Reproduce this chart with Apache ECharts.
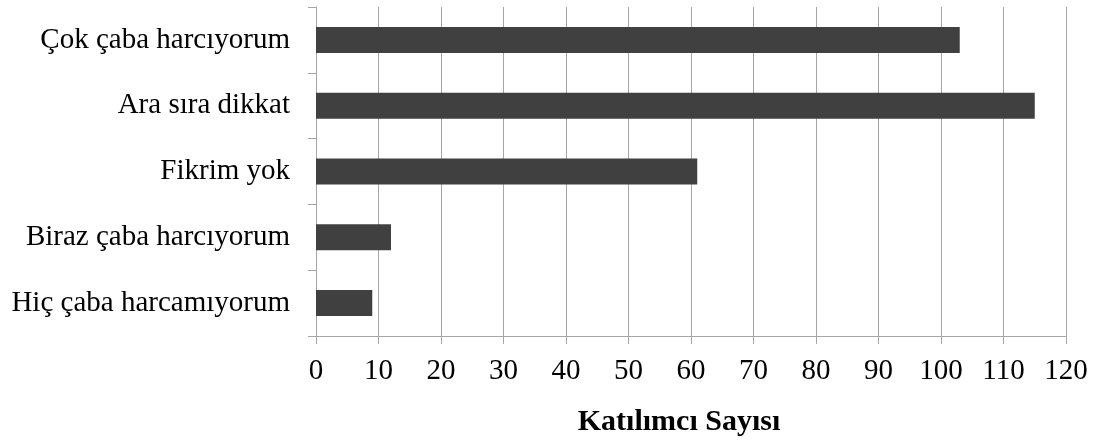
<!DOCTYPE html>
<html>
<head>
<meta charset="utf-8">
<script src="https://cdn.jsdelivr.net/npm/echarts@6/dist/echarts.min.js"></script>
<style>
html,body{margin:0;padding:0;background:#fff;}
#c{width:1093px;height:443px;}
</style>
</head>
<body>
<div id="c"></div>
<script>
const categories = ['Çok çaba harcıyorum', 'Ara sıra dikkat', 'Fikrim yok', 'Biraz çaba harcıyorum', 'Hiç çaba harcamıyorum'];
const values = [103, 115, 61, 12, 9];
const axisTitle = 'Katılımcı Sayısı';

const FONT = '"Liberation Serif", "Times New Roman", serif';
const chart = echarts.init(document.getElementById('c'), null, {renderer: 'canvas'});
chart.setOption({
  animation: false,
  backgroundColor: '#fff',
  grid: {left: 316, right: 27, top: 7, bottom: 107, containLabel: false},
  xAxis: {
    type: 'value',
    min: 0, max: 120, interval: 10,
    name: axisTitle,
    nameLocation: 'middle',
    nameGap: 71,
    nameTextStyle: {fontFamily: FONT, fontSize: 30, fontWeight: 'bold', color: '#000', padding: [0, 24, 0, 0]},
    axisLine: {show: true, lineStyle: {color: '#a6a6a6', width: 1}},
    axisTick: {show: true, length: 8, lineStyle: {color: '#a6a6a6'}},
    axisLabel: {fontFamily: FONT, fontSize: 29, color: '#000', margin: 21},
    splitLine: {show: true, lineStyle: {color: '#a6a6a6', width: 1}}
  },
  yAxis: {
    type: 'category',
    data: categories,
    inverse: true,
    axisLine: {show: true, lineStyle: {color: '#a6a6a6', width: 1}},
    axisTick: {show: true, length: 8, lineStyle: {color: '#a6a6a6'}},
    axisLabel: {fontFamily: FONT, fontSize: 29, color: '#000', margin: 26},
    splitLine: {show: false}
  },
  series: [{
    type: 'bar',
    data: values,
    barWidth: 26,
    itemStyle: {color: '#404040'}
  }]
});
</script>
</body>
</html>
